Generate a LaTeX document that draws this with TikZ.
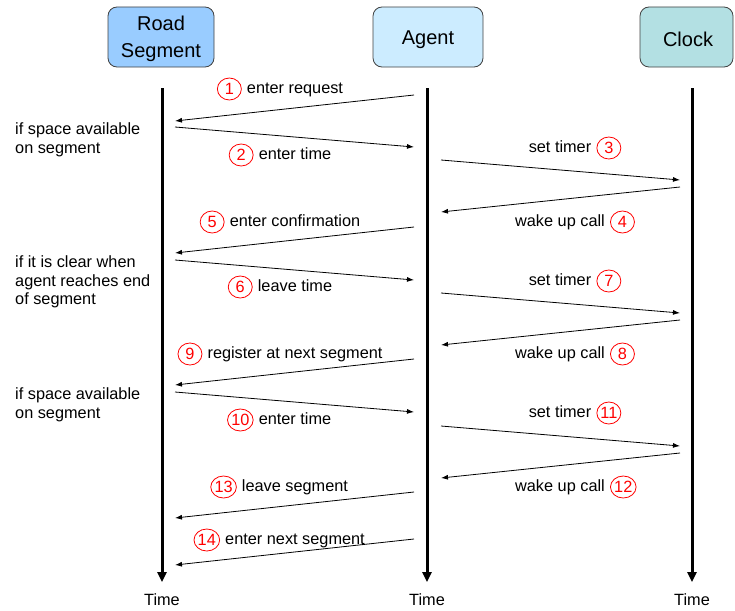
\documentclass[tikz,border=0pt]{standalone}
\usepackage{fontspec}
\setmainfont{Liberation Sans}
\usetikzlibrary{arrows.meta,shapes.geometric}
\definecolor{roadfill}{HTML}{99CCFF}
\definecolor{agentfill}{HTML}{CCECFF}
\definecolor{clockfill}{HTML}{B3E0E3}
\definecolor{boxline}{HTML}{404040}
\definecolor{numred}{HTML}{FF0000}
\tikzset{
  actor/.style={draw=boxline, line width=0.8pt, rounded corners=9pt,
    minimum height=60pt, inner sep=0pt, align=center,
    font=\fontsize{20}{27}\selectfont},
  lifeline/.style={line width=3pt, -{Triangle[length=10pt,width=9pt]}},
  msg/.style={line width=0.8pt, -{Latex[length=7pt,width=5pt]}},
  lbl/.style={font=\fontsize{16.3}{19}\selectfont, inner sep=0pt,
    text height=12pt, text depth=3.5pt},
  num/.style={ellipse, draw=numred, text=numred, line width=0.8pt,
    inner sep=0pt, minimum width=24pt, minimum height=22pt,
    font=\fontsize{16.3}{19}\selectfont},
  note/.style={font=\fontsize{16.3}{18.6}\selectfont, inner sep=0pt,
    align=left, anchor=west},
}
\begin{document}
\begin{tikzpicture}[x=1pt,y=-1pt]
\useasboundingbox (0,0) rectangle (735,610);

% participants
\node[actor, fill=roadfill, minimum width=106pt] (road) at (161,37) {};
\node[actor, fill=agentfill, minimum width=110pt] (agent) at (428,37) {};
\node[actor, fill=clockfill, minimum width=93pt] (clock) at (686.5,37) {};
\node[font=\fontsize{20}{27}\selectfont, align=center, inner sep=0pt] (roadname) at (161,39) {Road\\Segment};
\node[font=\fontsize{20}{27}\selectfont, inner sep=0pt] (agentname) at (428,39.5) {Agent};
\node[font=\fontsize{20}{27}\selectfont, inner sep=0pt] (clockname) at (688,39.5) {Clock};

% lifelines with time labels
\foreach \n/\x in {road/162, agent/427, clock/692} {
  \coordinate (\n top) at (\x,88);
  \node[lbl] (\n time) at (\x,601) {Time};
  \draw[lifeline] (\n top) -- ([yshift=11pt]\n time.north);
}

% messages
\foreach \i/\xa/\ya/\xb/\yb in {
   1/414/95/175/121,   2/175/127/414/147,
   3/441/160/680/180,  4/680/187/441/212,
   5/414/227/175/253,  6/175/260/414/280,
   7/441/293/680/313,  8/680/320/441/345,
   9/414/359/175/385, 10/175/392/414/412,
  11/441/426/680/446, 12/680/453/441/478,
  13/414/492/175/518, 14/414/539/175/565} {
  \coordinate (m\i s) at (\xa,\ya);
  \coordinate (m\i e) at (\xb,\yb);
  \draw[msg] (m\i s) -- (m\i e);
}

% labels between road segment and agent (number on the left)
\foreach \i/\y/\t in {
   1/89/enter request, 2/155/enter time, 5/222/enter confirmation,
   6/287/leave time, 9/354/register at next segment, 10/420/enter time,
  13/487/leave segment, 14/540/enter next segment} {
  \node[lbl] (t\i) at (295,\y) {\t};
  \node[num, anchor=east] (n\i) at ([xshift=-5pt]t\i.west) {\i};
}

% labels between agent and clock (number on the right)
\foreach \i/\y/\t in {
   3/148/set timer, 4/222/wake up call, 7/281/set timer,
   8/354/wake up call, 11/413/set timer, 12/487/wake up call} {
  \node[lbl] (t\i) at (560,\y) {\t};
  \node[num, anchor=west] (n\i) at ([xshift=5pt]t\i.east) {\i};
}

% conditions
\node[note] (c1) at (15,140) {if space available\\on segment};
\node[note] (c2) at (15,282) {if it is clear when\\agent reaches end\\of segment};
\node[note] (c3) at (15,405) {if space available\\on segment};
\end{tikzpicture}
\end{document}
